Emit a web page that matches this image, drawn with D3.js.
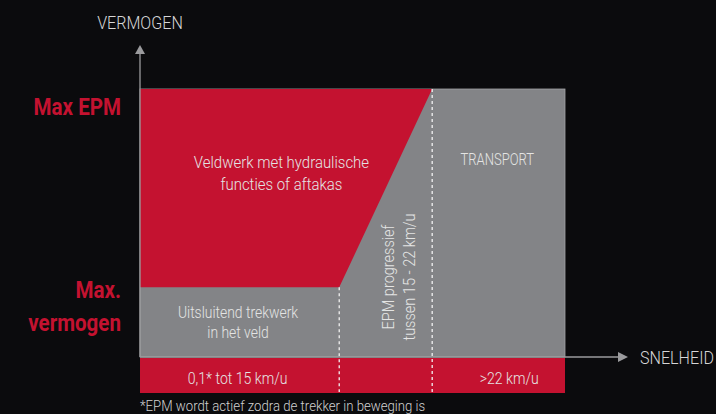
<!DOCTYPE html>
<html>
<head>
<meta charset="utf-8">
<script src="https://cdn.jsdelivr.net/npm/d3@7"></script>
<style>
  html, body { margin: 0; padding: 0; background: #0b0b0d; }
  svg { display: block; }
  text { font-family: Roboto, "Open Sans", sans-serif; }
</style>
</head>
<body>
<svg id="chart" width="716" height="414"></svg>
<script>
// speed (km/u) breakpoints: start, EPM start, EPM full, end of chart
const speedBreaks = [0, 15, 22, 32];
// power levels (relative): base, max vermogen, max EPM
const powerLevels = [0, 26, 100];
const yLabels = [
    {lines: ['Max EPM'], level: 100},
    {lines: ['Max.', 'vermogen'], level: 26}
];
const zoneLabels = [
    {lines: ['Veldwerk met hydraulische', 'functies of aftakas'], x: 10.65, y: 70.6},
    {lines: ['Uitsluitend trekwerk', 'in het veld'], x: 7.38, y: 14.6},
    {lines: ['TRANSPORT'], x: 26.9, y: 71.7}
];
const speedLabels = [
    {text: '0,1* tot 15 km/u', x: 7.35},
    {text: '>22 km/u', x: 27.8}
];
const epmLabel = ['EPM progressief', 'tussen 15 - 22 km/u'];
const footnote = '*EPM wordt actief zodra de trekker in beweging is';

const red = '#c41230';
const grey = '#838487';
const light = '#e4e4e4';

const svg = d3.select('#chart');

const x = d3.scaleLinear().domain([0, 32]).range([140, 565]);
const y = d3.scaleLinear().domain([0, 100]).range([357, 89]);
const bandH = 35;

// condensed look: scale text horizontally inside a group
function label(px, py, lines, o) {
    const g = svg.append('g')
        .attr('transform', `translate(${px},${py})` + (o.rotate ? ` rotate(${o.rotate})` : '') + ` scale(${o.sx},1)`);
    const t = g.append('text')
        .attr('text-anchor', o.anchor || 'middle')
        .attr('fill', o.fill || light)
        .attr('font-size', o.size)
        .attr('font-weight', o.weight || 300);
    lines.forEach(function(s, i) {
        t.append('tspan').attr('x', 0).attr('y', i * (o.lh || 0)).text(s);
    });
    return t;
}

// grey background block
svg.append('rect')
    .attr('x', x(0)).attr('y', y(100))
    .attr('width', x(32) - x(0)).attr('height', y(0) - y(100))
    .attr('fill', grey)
    .attr('stroke', '#a4a4a6').attr('stroke-width', 0.8);

// red field-work polygon
const poly = [
    [speedBreaks[0], powerLevels[2]],
    [speedBreaks[2], powerLevels[2]],
    [speedBreaks[1], powerLevels[1]],
    [speedBreaks[0], powerLevels[1]]
];
svg.append('path')
    .attr('d', d3.line().x(d => x(d[0])).y(d => y(d[1]))(poly) + 'Z')
    .attr('fill', red);

// red speed band under the axis
svg.append('rect')
    .attr('x', x(0)).attr('y', y(0) + 1)
    .attr('width', x(32) - x(0)).attr('height', bandH)
    .attr('fill', red);

// dashed separators
svg.append('line')
    .attr('x1', x(15)).attr('x2', x(15))
    .attr('y1', y(powerLevels[1])).attr('y2', y(0) + bandH)
    .attr('stroke', '#f2f2f2').attr('stroke-width', 1.3)
    .attr('stroke-dasharray', '3,3');
svg.append('line')
    .attr('x1', x(22)).attr('x2', x(22))
    .attr('y1', y(100)).attr('y2', y(0) + bandH)
    .attr('stroke', '#f2f2f2').attr('stroke-width', 1.3)
    .attr('stroke-dasharray', '3,3');

// axes with arrow heads
const axisCol = '#9b9b9d';
svg.append('line')
    .attr('x1', x(0)).attr('x2', x(0))
    .attr('y1', 54).attr('y2', y(0))
    .attr('stroke', axisCol).attr('stroke-width', 1.3);
svg.append('path')
    .attr('d', `M${x(0)},45 L${x(0) + 5},54 L${x(0) - 5},54 Z`)
    .attr('fill', axisCol);
svg.append('line')
    .attr('x1', x(0)).attr('x2', 618)
    .attr('y1', y(0)).attr('y2', y(0))
    .attr('stroke', axisCol).attr('stroke-width', 1.3);
svg.append('path')
    .attr('d', `M628,${y(0)} L618,${y(0) - 5} L618,${y(0) + 5} Z`)
    .attr('fill', axisCol);

label(x(0), 29, ['VERMOGEN'], {size: 18.5, sx: 0.87, fill: '#d6d6d6'});
label(640, 364, ['SNELHEID'], {size: 18.5, sx: 0.87, fill: '#d6d6d6', anchor: 'start'});

// y level labels
yLabels.forEach(function(l) {
    const y0 = l.lines.length > 1 ? y(l.level) + 11 : y(l.level) + 26;
    label(121, y0, l.lines, {size: 24.5, sx: 0.84, fill: red, weight: 700, anchor: 'end', lh: 33});
});

// zone labels
label(x(zoneLabels[0].x), y(zoneLabels[0].y), zoneLabels[0].lines, {size: 17, sx: 0.88, lh: 22.6});
label(x(zoneLabels[1].x), y(zoneLabels[1].y), zoneLabels[1].lines, {size: 15.8, sx: 0.88, lh: 20});
label(x(zoneLabels[2].x), y(zoneLabels[2].y), zoneLabels[2].lines, {size: 16.5, sx: 0.79});

// rotated EPM label
label(394, 277, epmLabel, {size: 16.5, sx: 0.88, rotate: -90, lh: 21.5});

// speed labels in red band
speedLabels.forEach(function(l) {
    label(x(l.x), y(0) + 27, [l.text], {size: 16, sx: 0.88});
});

label(x(0), 411, [footnote], {size: 15, sx: 0.88, fill: '#d0d0d0', anchor: 'start'});
</script>
</body>
</html>
